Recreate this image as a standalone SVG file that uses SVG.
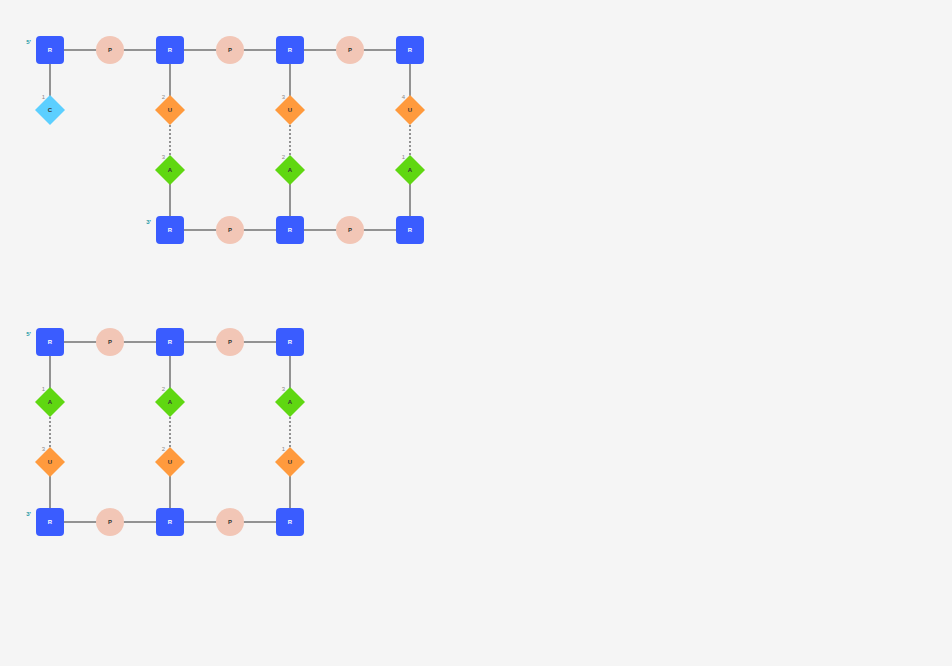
<svg xmlns="http://www.w3.org/2000/svg" width="952" height="666" viewBox="0 0 952 666">
<style>
.bg{fill:#f5f5f5}
.ln{stroke:#929292;stroke-width:2;fill:none}
.dt{stroke:#929292;stroke-width:2;fill:none;stroke-dasharray:2 2}
.r{fill:#3a5cff}
.p{fill:#f2c6b6}
.u{fill:#ff9a3d}
.a{fill:#5fd711}
.c{fill:#5ccfff}
text{font-family:"Liberation Sans",Arial,sans-serif;font-size:6px;font-weight:bold;text-anchor:middle;dominant-baseline:central}
.tw{fill:#ffffff}
.td{fill:#333333}
.num{fill:#8a8a8a;font-weight:normal;font-size:6px;text-anchor:end}
.end{fill:#1a9aa6;font-weight:bold;font-size:6px;text-anchor:end}
</style>
<defs>
<rect id="R" x="-14" y="-14" width="28" height="28" rx="4"/>
<circle id="P" r="14"/>
<polygon id="D" points="0,-15 15,0 0,15 -15,0"/>
</defs>
<rect class="bg" width="952" height="666"/>
<g id="connectors">
<path class="ln" d="M50,50H410 M170,230H410 M50,50V110 M170,50V110 M290,50V110 M410,50V110 M170,170V230 M290,170V230 M410,170V230"/>
<path class="dt" d="M170,125V155 M290,125V155 M410,125V155"/>
<path class="ln" d="M50,342H290 M50,522H290 M50,342V402 M170,342V402 M290,342V402 M50,462V522 M170,462V522 M290,462V522"/>
<path class="dt" d="M50,417V447 M170,417V447 M290,417V447"/>
</g>
<g id="labels">
<text class="end" x="31" y="42">5'</text>
<text class="end" x="151" y="222">3'</text>
<text class="end" x="31" y="334">5'</text>
<text class="end" x="31" y="514">3'</text>
</g>
<g id="n1"><use href="#R" class="r" x="50" y="50"/><text class="tw" x="50" y="50">R</text></g>
<g id="n2"><use href="#P" class="p" x="110" y="50"/><text class="td" x="110" y="50">P</text></g>
<g id="n3"><use href="#R" class="r" x="170" y="50"/><text class="tw" x="170" y="50">R</text></g>
<g id="n4"><use href="#P" class="p" x="230" y="50"/><text class="td" x="230" y="50">P</text></g>
<g id="n5"><use href="#R" class="r" x="290" y="50"/><text class="tw" x="290" y="50">R</text></g>
<g id="n6"><use href="#P" class="p" x="350" y="50"/><text class="td" x="350" y="50">P</text></g>
<g id="n7"><use href="#R" class="r" x="410" y="50"/><text class="tw" x="410" y="50">R</text></g>
<g id="n8"><use href="#D" class="c" x="50" y="110"/><text class="td" x="50" y="110">C</text><text class="num" x="45" y="97">1</text></g>
<g id="n9"><use href="#D" class="u" x="170" y="110"/><text class="td" x="170" y="110">U</text><text class="num" x="165" y="97">2</text></g>
<g id="n10"><use href="#D" class="u" x="290" y="110"/><text class="td" x="290" y="110">U</text><text class="num" x="285" y="97">3</text></g>
<g id="n11"><use href="#D" class="u" x="410" y="110"/><text class="td" x="410" y="110">U</text><text class="num" x="405" y="97">4</text></g>
<g id="n12"><use href="#D" class="a" x="170" y="170"/><text class="td" x="170" y="170">A</text><text class="num" x="165" y="157">3</text></g>
<g id="n13"><use href="#D" class="a" x="290" y="170"/><text class="td" x="290" y="170">A</text><text class="num" x="285" y="157">2</text></g>
<g id="n14"><use href="#D" class="a" x="410" y="170"/><text class="td" x="410" y="170">A</text><text class="num" x="405" y="157">1</text></g>
<g id="n15"><use href="#R" class="r" x="170" y="230"/><text class="tw" x="170" y="230">R</text></g>
<g id="n16"><use href="#P" class="p" x="230" y="230"/><text class="td" x="230" y="230">P</text></g>
<g id="n17"><use href="#R" class="r" x="290" y="230"/><text class="tw" x="290" y="230">R</text></g>
<g id="n18"><use href="#P" class="p" x="350" y="230"/><text class="td" x="350" y="230">P</text></g>
<g id="n19"><use href="#R" class="r" x="410" y="230"/><text class="tw" x="410" y="230">R</text></g>
<g id="m1"><use href="#R" class="r" x="50" y="342"/><text class="tw" x="50" y="342">R</text></g>
<g id="m2"><use href="#P" class="p" x="110" y="342"/><text class="td" x="110" y="342">P</text></g>
<g id="m3"><use href="#R" class="r" x="170" y="342"/><text class="tw" x="170" y="342">R</text></g>
<g id="m4"><use href="#P" class="p" x="230" y="342"/><text class="td" x="230" y="342">P</text></g>
<g id="m5"><use href="#R" class="r" x="290" y="342"/><text class="tw" x="290" y="342">R</text></g>
<g id="m6"><use href="#D" class="a" x="50" y="402"/><text class="td" x="50" y="402">A</text><text class="num" x="45" y="389">1</text></g>
<g id="m7"><use href="#D" class="a" x="170" y="402"/><text class="td" x="170" y="402">A</text><text class="num" x="165" y="389">2</text></g>
<g id="m8"><use href="#D" class="a" x="290" y="402"/><text class="td" x="290" y="402">A</text><text class="num" x="285" y="389">3</text></g>
<g id="m9"><use href="#D" class="u" x="50" y="462"/><text class="td" x="50" y="462">U</text><text class="num" x="45" y="449">3</text></g>
<g id="m10"><use href="#D" class="u" x="170" y="462"/><text class="td" x="170" y="462">U</text><text class="num" x="165" y="449">2</text></g>
<g id="m11"><use href="#D" class="u" x="290" y="462"/><text class="td" x="290" y="462">U</text><text class="num" x="285" y="449">1</text></g>
<g id="m12"><use href="#R" class="r" x="50" y="522"/><text class="tw" x="50" y="522">R</text></g>
<g id="m13"><use href="#P" class="p" x="110" y="522"/><text class="td" x="110" y="522">P</text></g>
<g id="m14"><use href="#R" class="r" x="170" y="522"/><text class="tw" x="170" y="522">R</text></g>
<g id="m15"><use href="#P" class="p" x="230" y="522"/><text class="td" x="230" y="522">P</text></g>
<g id="m16"><use href="#R" class="r" x="290" y="522"/><text class="tw" x="290" y="522">R</text></g>
</svg>
